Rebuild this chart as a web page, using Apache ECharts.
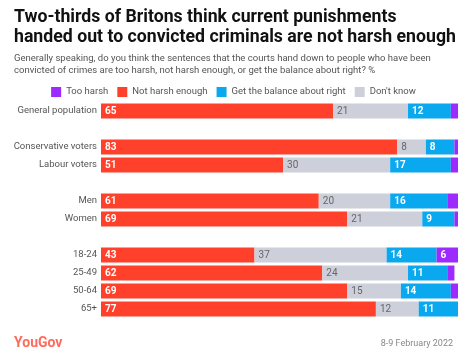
<!DOCTYPE html>
<html><head><meta charset="utf-8">
<script src="https://cdn.jsdelivr.net/npm/echarts@6/dist/echarts.min.js"></script>
<style>html,body{margin:0;padding:0;background:#fff}#c{width:467px;height:356px}</style>
</head><body><div id="c"></div>
<script>
const categories = ['General population', ' ', 'Conservative voters', 'Labour voters', '  ', 'Men', 'Women', '   ', '18-24', '25-49', '50-64', '65+'];
const notHarshEnough = [65, null, 83, 51, null, 61, 69, null, 43, 62, 69, 77];
const dontKnow       = [21, null, 8, 30, null, 20, 21, null, 37, 24, 15, 12];
const balanceRight   = [12, null, 8, 17, null, 16, 9, null, 14, 11, 14, 11];
const tooHarsh       = [2, null, 1, 2, null, 3, 1, null, 6, 2, 2, 0];

const FONT = 'Roboto, "Noto Sans", sans-serif';
function lbl(color, weight) {
  return {
    show: true, position: 'insideLeft', distance: 4,
    color: color, fontSize: 10, fontWeight: weight, fontFamily: FONT,
    formatter: p => (p.value != null && p.value >= 5) ? p.value : ''
  };
}
const chart = echarts.init(document.getElementById('c'), null, {renderer: 'canvas'});
chart.setOption({
  animation: false,
  textStyle: {fontFamily: FONT},
  title: [
    {text: 'Two-thirds of Britons think current punishments\nhanded out to convicted criminals are not harsh enough',
     left: 9, top: 3,
     textStyle: {fontSize: 17.7, fontWeight: 'bold', color: '#111', lineHeight: 20, fontFamily: FONT}},
    {text: 'Generally speaking, do you think the sentences that the courts hand down to people who have been\nconvicted of crimes are too harsh, not harsh enough, or get the balance about right? %',
     left: 9, top: 48,
     textStyle: {fontSize: 9.5, fontWeight: 'normal', color: '#555', lineHeight: 12, fontFamily: FONT}},
    {text: 'YouGov', left: 9, top: 331,
     textStyle: {fontSize: 14, fontWeight: 'bold', color: '#ff6b5b', fontFamily: FONT}},
    {text: '8-9 February 2022', right: 9, top: 334,
     textStyle: {fontSize: 9, fontWeight: 'normal', color: '#888', fontFamily: FONT}}
  ],
  legend: {
    top: 82, left: 'center', itemWidth: 10, itemHeight: 10, itemGap: 9,
    icon: 'rect',
    textStyle: {fontSize: 9.5, color: '#555', fontFamily: FONT},
    data: ['Too harsh', 'Not harsh enough', 'Get the balance about right', "Don't know"]
  },
  grid: {left: 101, right: 9, top: 102, height: 216},
  xAxis: {type: 'value', min: 0, max: 100, show: false},
  yAxis: {
    type: 'category', data: categories, inverse: true,
    axisLine: {show: false}, axisTick: {show: false},
    axisLabel: {fontSize: 9.5, color: '#555', margin: 4, fontFamily: FONT}
  },
  series: [
    {name: 'Not harsh enough', type: 'bar', stack: 't', data: notHarshEnough, barWidth: 15,
     itemStyle: {color: '#ff412c'}, label: lbl('#fff', 'bold')},
    {name: "Don't know", type: 'bar', stack: 't', data: dontKnow,
     itemStyle: {color: '#cdd0da'}, label: lbl('#666', 'normal')},
    {name: 'Get the balance about right', type: 'bar', stack: 't', data: balanceRight,
     itemStyle: {color: '#0aa8ee'}, label: lbl('#fff', 'bold')},
    {name: 'Too harsh', type: 'bar', stack: 't', data: tooHarsh,
     itemStyle: {color: '#9d2aff'}, label: lbl('#fff', 'bold')}
  ]
});
</script></body></html>
